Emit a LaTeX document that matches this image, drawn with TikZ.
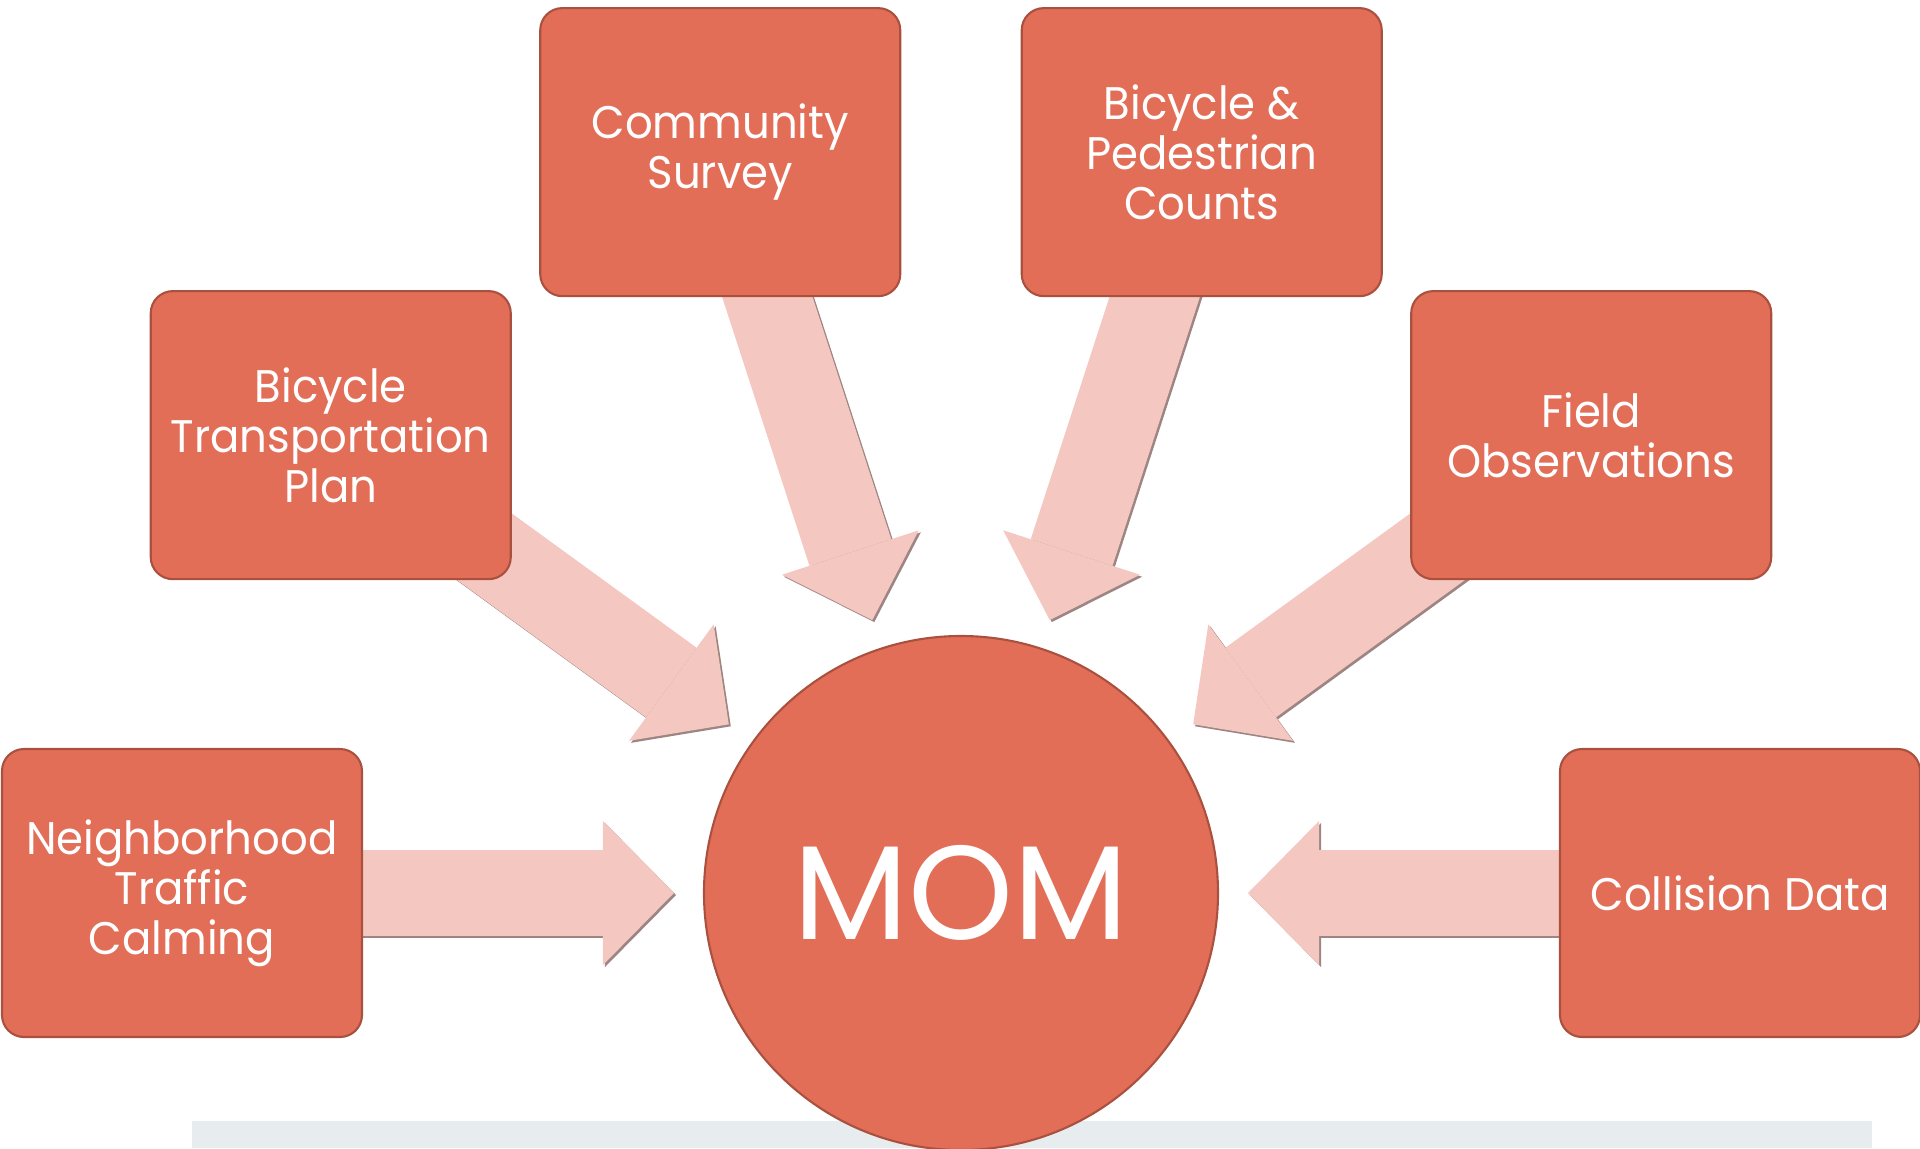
\documentclass[tikz,border=0pt]{standalone}
\usepackage{fontspec}
\setmainfont{Poppins}
\newfontfamily\boxfont{Poppins}[FakeStretch=0.95]
\usetikzlibrary{arrows.meta,backgrounds}

\definecolor{boxred}{HTML}{E26E58}
\definecolor{boxedge}{HTML}{A9503F}
\definecolor{arrowpink}{HTML}{F5C7C1}
\definecolor{arrowedge}{HTML}{9C8582}
\definecolor{bargray}{HTML}{E7ECEE}

\tikzset{
	box/.style={rectangle, rounded corners=0.22cm, fill=boxred, draw=boxedge, line width=0.6pt,
		minimum width=3.6cm, minimum height=2.88cm, inner sep=0pt, text=white, align=center,
		font=\boxfont\fontsize{13}{14.2}\selectfont},
	hub/.style={circle, fill=boxred, draw=boxedge, line width=0.6pt, minimum size=5.14cm,
		inner sep=0pt, text=white, font=\fontsize{38}{40}\selectfont},
	flow/.style={arrowpink, line width=0.86cm,
		-{Triangle[length=0.71cm 0 0, width=1.44cm 0 0, line width=0pt]}},
	flowshadow/.style={flow, arrowedge, transform canvas={shift={(0.02,-0.02)}}}
}

\begin{document}
\begin{tikzpicture}
	\useasboundingbox (-9.61,-2.55) rectangle (9.59,8.93);

	\node[hub] (mom) at (0,0) {MOM};

	\node[box] (calming)   at (180:7.79) {Neighborhood\\Traffic\\Calming};
	\node[box] (plan)      at (144:7.79) {Bicycle\\Transportation\\Plan};
	\node[box] (survey)    at (108:7.79) {Community\\Survey};
	\node[box] (counts)    at (72:7.79)  {Bicycle \&\\Pedestrian\\Counts};
	\node[box] (field)     at (36:7.79)  {Field\\Observations};
	\node[box] (collision) at (0:7.79)   {Collision Data};

	% arrow tips, just short of the circle
	\coordinate (t1) at (180:2.87);
	\coordinate (t2) at (144:2.87);
	\coordinate (t3) at (108:2.87);
	\coordinate (t4) at (72:2.87);
	\coordinate (t5) at (36:2.87);
	\coordinate (t6) at (0:2.87);

	\begin{scope}[on background layer]
		\fill[bargray] (-7.69,-2.55) rectangle (9.11,-2.28);

		\draw[flowshadow] (calming.center) -- (t1);
		\draw[flowshadow] (plan.center) -- (t2);
		\draw[flowshadow] (survey.center) -- (t3);
		\draw[flowshadow] (counts.center) -- (t4);
		\draw[flowshadow] (field.center) -- (t5);
		\draw[flowshadow] (collision.center) -- (t6);

		\draw[flow] (calming.center) -- (t1);
		\draw[flow] (plan.center) -- (t2);
		\draw[flow] (survey.center) -- (t3);
		\draw[flow] (counts.center) -- (t4);
		\draw[flow] (field.center) -- (t5);
		\draw[flow] (collision.center) -- (t6);
	\end{scope}
\end{tikzpicture}
\end{document}
